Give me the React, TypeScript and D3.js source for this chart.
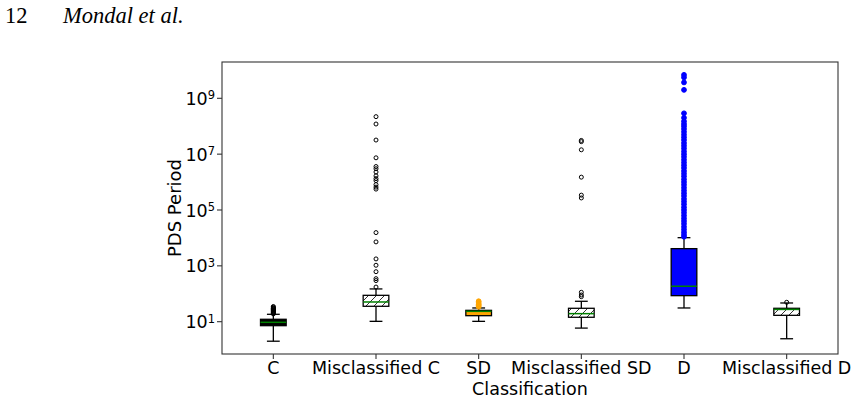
import { useRef, useEffect } from 'react'
import * as d3 from 'd3'

// Box statistics per classification (PDS period, log scale)
const categories = ['C', 'Misclassified C', 'SD', 'Misclassified SD', 'D', 'Misclassified D']
const q1 = [7.2, 35.6, 16.4, 14.4, 85.5, 16.9]
const medians = [9.5, 50.8, 23.5, 19.4, 186, 27.5]
const q3 = [12.2, 88, 25.5, 30.2, 4130, 30.2]
const whiskerLow = [2.0, 10.3, 10.3, 5.9, 31, 2.45]
const whiskerHigh = [18.4, 149, 31, 53.8, 10200, 46.8]

const fliersC = [19, 20, 21, 22, 23, 24, 25, 26, 27, 28, 29, 30, 31, 33, 35]
const fliersMisC = [
  174, 297, 347, 617, 1050, 1770, 7200, 15500, 5.6e5, 6.6e5, 8.1e5, 1.13e6, 1.33e6, 1.67e6,
  2.3e6, 3.0e6, 3.6e6, 7.4e6, 3.2e7, 1.2e8, 2.2e8,
]
const fliersSD = [34, 38, 42, 47, 54]
const fliersMisSD = [78.7, 90.6, 113, 2.7e5, 3.4e5, 1.5e6, 1.43e7, 2.8e7, 3.1e7]
const fliersD = [
  1.1e4, 1.3e4, 1.6e4, 2e4, 2.5e4, 3.2e4, 4e4, 5e4, 6.3e4, 8e4, 1e5, 1.25e5, 1.6e5, 2e5,
  2.5e5, 3.2e5, 4e5, 5e5, 6.3e5, 8e5, 1e6, 1.25e6, 1.6e6, 2e6, 2.5e6, 3.2e6, 4e6, 5e6,
  6.3e6, 8e6, 1e7, 1.25e7, 1.6e7, 2e7, 2.5e7, 3.2e7, 4e7, 5e7, 6.3e7, 8e7, 1e8, 1.2e8,
  1.5e8, 2e8, 2.9e8, 2.0e9, 3.7e9, 5.6e9, 6.9e9,
]
const fliersMisD = [49.5]
const fliers = [fliersC, fliersMisC, fliersSD, fliersMisSD, fliersD, fliersMisD]

const yTicks = [1e1, 1e3, 1e5, 1e7, 1e9]
const yTickExp = ['1', '3', '5', '7', '9']

const boxFill = ['#000000', 'url(#hatch)', '#ffa500', 'url(#hatch)', '#0000ff', 'url(#hatch)']
const flierFill = ['none', 'none', '#ffa500', 'none', '#0000ff', 'none']
const flierStroke = ['#000000', '#000000', '#ffa500', '#000000', '#0000ff', '#000000']

const W = 856
const H = 401
const margin = { left: 222, right: 18, top: 62, bottom: 47 }
const FONT = 'DejaVu Sans, sans-serif'

export default function App() {
  const svgRef = useRef<SVGSVGElement>(null)

  useEffect(() => {
    if (!svgRef.current) return
    const svg = d3.select(svgRef.current)
    svg.selectAll('*').remove()

    const x0 = margin.left
    const x1 = W - margin.right
    const y0 = margin.top
    const y1 = H - margin.bottom

    const x = d3.scaleLinear().domain([0.5, categories.length + 0.5]).range([x0, x1])
    const y = d3.scaleLog().domain([Math.pow(10, -0.157), Math.pow(10, 10.3)]).range([y1, y0])
    const boxW = x(1.25) - x(1)
    const capW = boxW / 2

    // page header
    svg.append('text').attr('x', 5).attr('y', 23).attr('font-family', 'Liberation Serif, serif')
      .attr('font-size', 22.5).attr('fill', '#000').text('12')
    svg.append('text').attr('x', 63).attr('y', 23).attr('font-family', 'Liberation Serif, serif')
      .attr('font-style', 'italic').attr('font-size', 22.5).attr('fill', '#000').text('Mondal et al.')

    const defs = svg.append('defs')
    const pat = defs.append('pattern').attr('id', 'hatch').attr('patternUnits', 'userSpaceOnUse')
      .attr('width', 8).attr('height', 8)
    pat.append('rect').attr('width', 8).attr('height', 8).attr('fill', '#fff')
    pat.append('path').attr('d', 'M-2,2 L2,-2 M0,8 L8,0 M6,10 L10,6')
      .attr('stroke', '#000').attr('stroke-width', 0.8)

    const clipId = 'plot-clip'
    defs.append('clipPath').attr('id', clipId).append('rect')
      .attr('x', x0).attr('y', y0).attr('width', x1 - x0).attr('height', y1 - y0)

    const g = svg.append('g').attr('clip-path', `url(#${clipId})`)

    categories.forEach((cat, i) => {
      const cx = x(i + 1)
      const b = g.append('g')
      // whiskers
      b.append('line').attr('x1', cx).attr('x2', cx).attr('y1', y(q1[i])).attr('y2', y(whiskerLow[i]))
        .attr('stroke', '#000').attr('stroke-width', 1.3)
      b.append('line').attr('x1', cx).attr('x2', cx).attr('y1', y(q3[i])).attr('y2', y(whiskerHigh[i]))
        .attr('stroke', '#000').attr('stroke-width', 1.3)
      // caps
      ;[whiskerLow[i], whiskerHigh[i]].forEach((v) => {
        b.append('line').attr('x1', cx - capW / 2).attr('x2', cx + capW / 2).attr('y1', y(v)).attr('y2', y(v))
          .attr('stroke', '#000').attr('stroke-width', 1.3)
      })
      // box
      b.append('rect').attr('x', cx - boxW / 2).attr('width', boxW)
        .attr('y', y(q3[i])).attr('height', y(q1[i]) - y(q3[i]))
        .attr('fill', boxFill[i]).attr('stroke', '#000').attr('stroke-width', 1.3)
      // median
      b.append('line').attr('x1', cx - boxW / 2).attr('x2', cx + boxW / 2)
        .attr('y1', y(medians[i])).attr('y2', y(medians[i]))
        .attr('stroke', '#008000').attr('stroke-width', 1.5)
      // fliers
      b.selectAll('circle.flier').data(fliers[i]).enter().append('circle')
        .attr('class', 'flier')
        .attr('cx', cx).attr('cy', (d) => y(d))
        .attr('r', flierFill[i] === 'none' ? 2 : 2.4)
        .attr('fill', flierFill[i]).attr('stroke', flierStroke[i]).attr('stroke-width', 1)
    })

    // frame
    svg.append('rect').attr('x', x0).attr('y', y0).attr('width', x1 - x0).attr('height', y1 - y0)
      .attr('fill', 'none').attr('stroke', '#333').attr('stroke-width', 1.1)

    // x ticks and labels
    categories.forEach((cat, i) => {
      const cx = x(i + 1)
      svg.append('line').attr('x1', cx).attr('x2', cx).attr('y1', y1).attr('y2', y1 + 5)
        .attr('stroke', '#333').attr('stroke-width', 1.1)
      svg.append('text').attr('x', cx).attr('y', 374).attr('text-anchor', 'middle')
        .attr('font-family', FONT).attr('font-size', 17.5).attr('fill', '#000').text(cat)
    })

    // y ticks and labels
    yTicks.forEach((v, i) => {
      const ty = y(v)
      svg.append('line').attr('x1', x0 - 5).attr('x2', x0).attr('y1', ty).attr('y2', ty)
        .attr('stroke', '#333').attr('stroke-width', 1.1)
      const t = svg.append('text').attr('x', 215).attr('y', ty + 6.6).attr('text-anchor', 'end')
        .attr('font-family', FONT).attr('font-size', 17.5).attr('fill', '#000')
      t.append('tspan').text('10')
      t.append('tspan').attr('font-size', 11.5).attr('dy', -5.5).text(yTickExp[i])
    })

    // axis titles
    svg.append('text').attr('x', (x0 + x1) / 2).attr('y', 395).attr('text-anchor', 'middle')
      .attr('font-family', FONT).attr('font-size', 17.5).attr('fill', '#000').text('Classification')
    svg.append('text').attr('transform', `translate(181,208) rotate(-90)`).attr('text-anchor', 'middle')
      .attr('font-family', FONT).attr('font-size', 18).attr('fill', '#000').text('PDS Period')
  }, [])

  return (
    <svg
      ref={svgRef}
      width={W}
      height={H}
      style={{ position: 'absolute', left: 0, top: 0, background: '#fff' }}
    />
  )
}
